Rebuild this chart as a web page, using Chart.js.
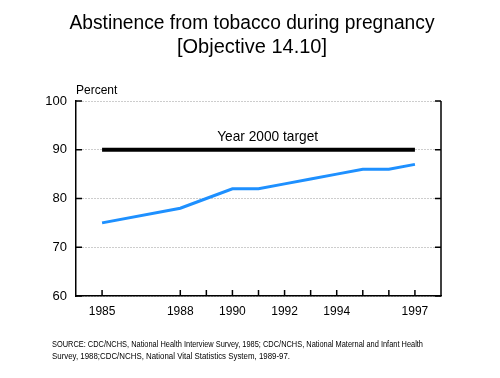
<!DOCTYPE html>
<html><head><meta charset="utf-8">
<script src="https://cdn.jsdelivr.net/npm/chart.js@4/dist/chart.umd.min.js"></script>
<style>html,body{margin:0;padding:0;background:#fff;}#wrap{width:500px;height:378px;position:relative;}</style>
</head><body><div id="wrap"><canvas id="c" width="500" height="378"></canvas></div>
<script>
const titleLines = ["Abstinence from tobacco during pregnancy", "[Objective 14.10]"];
const years = [1985, 1988, 1989, 1990, 1991, 1992, 1993, 1994, 1995, 1996, 1997];
const abstinence = [75, 78, 80, 82, 82, 83, 84, 85, 86, 86, 87];
const targetYears = [1985, 1997];
const targetValues = [90, 90];
const targetLabel = "Year 2000 target";
const tickYears = [1985, 1988, 1989, 1990, 1991, 1992, 1993, 1994, 1995, 1996, 1997];
const labeledYears = [1985, 1988, 1990, 1992, 1994, 1997];
const yTicks = [60, 70, 80, 90, 100];
const yTitle = "Percent";
const sourceLines = [
  "SOURCE: CDC/NCHS, National Health Interview Survey, 1985; CDC/NCHS, National Maternal and Infant Health",
  "Survey, 1988;CDC/NCHS, National Vital Statistics System, 1989-97."
];

const FONT = "'Liberation Sans', Arial, sans-serif";

function fitText(ctx, text, x, y, maxW, align) {
  const w = ctx.measureText(text).width;
  const s = Math.min(1, maxW / w);
  ctx.save();
  ctx.translate(x, y);
  ctx.scale(s, 1);
  ctx.textAlign = align;
  ctx.fillText(text, 0, 0);
  ctx.restore();
}

const decor = {
  id: 'decor',
  afterDraw(chart) {
    const ctx = chart.ctx;
    const xs = chart.scales.x, ys = chart.scales.y;
    const a = chart.chartArea;
    ctx.save();
    ctx.fillStyle = '#000';
    ctx.strokeStyle = '#000';
    ctx.lineWidth = 1.5;
    // right border
    ctx.beginPath();
    ctx.moveTo(a.right, ys.getPixelForValue(100));
    ctx.lineTo(a.right, ys.getPixelForValue(60));
    ctx.stroke();
    // inward ticks on y axes
    yTicks.forEach(v => {
      const py = ys.getPixelForValue(v);
      ctx.beginPath();
      ctx.moveTo(a.left, py); ctx.lineTo(a.left + 6, py);
      ctx.moveTo(a.right, py); ctx.lineTo(a.right - 6, py);
      ctx.stroke();
    });
    // inward ticks on x axis
    tickYears.forEach(v => {
      const px = xs.getPixelForValue(v);
      ctx.beginPath();
      ctx.moveTo(px, a.bottom); ctx.lineTo(px, a.bottom - 6);
      ctx.stroke();
    });
    // title
    ctx.textBaseline = 'middle';
    ctx.font = "20px " + FONT;
    fitText(ctx, titleLines[0], 252, 23, 365, 'center');
    fitText(ctx, titleLines[1], 252, 47, 170, 'center');
    // y title
    ctx.font = "12px " + FONT;
    ctx.textAlign = 'left';
    ctx.fillText(yTitle, a.left, 91);
    // target label
    ctx.font = "15px " + FONT;
    ctx.textBaseline = 'alphabetic';
    fitText(ctx, targetLabel, xs.getPixelForValue(1991.35), ys.getPixelForValue(91.8), 101, 'center');
    // source
    ctx.font = "9px " + FONT;
    ctx.textBaseline = 'middle';
    fitText(ctx, sourceLines[0], 52, 345, 371, 'left');
    fitText(ctx, sourceLines[1], 52, 357, 238, 'left');
    ctx.restore();
  }
};

new Chart(document.getElementById('c'), {
  type: 'line',
  data: {
    datasets: [
      {
        data: targetYears.map((x, i) => ({x, y: targetValues[i]})),
        borderColor: '#000', borderWidth: 4, pointRadius: 0, tension: 0, borderCapStyle: 'butt'
      },
      {
        data: years.map((x, i) => ({x, y: abstinence[i]})),
        borderColor: '#1E90FF', borderWidth: 3, pointRadius: 0, tension: 0
      }
    ]
  },
  options: {
    responsive: false,
    animation: false,
    devicePixelRatio: 1,
    layout: { padding: { left: 0, right: 59, top: 101, bottom: 0 } },
    plugins: { legend: { display: false }, title: { display: false }, tooltip: { enabled: false } },
    scales: {
      x: {
        type: 'linear', min: 1984, max: 1998,
        afterBuildTicks: s => { s.ticks = labeledYears.map(v => ({value: v})); },
        afterFit: s => { s.height = 82; },
        grid: { display: false, drawTicks: false },
        border: { display: true, color: '#000', width: 1.5 },
        ticks: { color: '#000', padding: 8, font: { family: FONT, size: 12 }, callback: v => String(v), maxRotation: 0, autoSkip: false }
      },
      y: {
        min: 60, max: 100,
        afterBuildTicks: s => { s.ticks = yTicks.map(v => ({value: v})); },
        afterFit: s => { s.width = 76; },
        grid: { color: '#9a9a9a', lineWidth: 1, drawTicks: false },
        border: { display: true, color: '#000', width: 1.5, dash: [1, 2] },
        ticks: { color: '#000', padding: 9, font: { family: FONT, size: 13 } }
      }
    }
  },
  plugins: [decor]
});
</script></body></html>
